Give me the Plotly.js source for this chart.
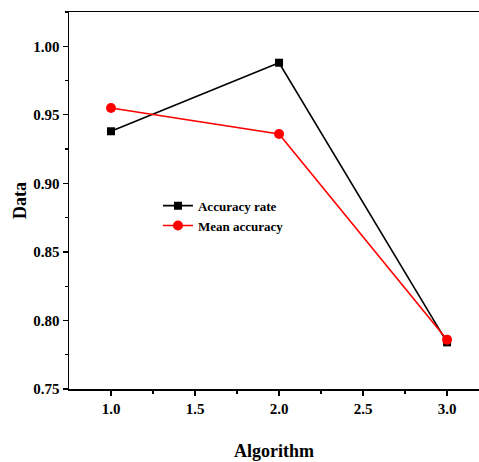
<!DOCTYPE html>
<html>
<head>
<meta charset="utf-8">
<script src="https://cdn.plot.ly/plotly-3.0.1.min.js"></script>
<style>html,body{margin:0;padding:0;background:#fff;}#chart{width:479px;height:462px;}</style>
</head>
<body>
<div id="chart"></div>
<script>
var algorithms = [1.0, 2.0, 3.0];
var accuracyRate = [0.938, 0.988, 0.784];
var meanAccuracy = [0.955, 0.936, 0.786];
var xTickVals = [1.0, 1.5, 2.0, 2.5, 3.0];
var xTickText = ['1.0', '1.5', '2.0', '2.5', '3.0'];
var yTickVals = [0.75, 0.80, 0.85, 0.90, 0.95, 1.00];
var yTickText = ['0.75', '0.80', '0.85', '0.90', '0.95', '1.00'];

var fontFam = 'Liberation Serif';
var tickFont = {family: fontFam, size: 15, color: '#000000', weight: 'bold'};

var traces = [
  {x: algorithms, y: accuracyRate, name: '<b>Accuracy rate</b>', type: 'scatter', mode: 'lines+markers',
   line: {color: '#000000', width: 1.6}, marker: {symbol: 'square', size: 8, color: '#000000'}},
  {x: algorithms, y: meanAccuracy, name: '<b>Mean accuracy</b>', type: 'scatter', mode: 'lines+markers',
   line: {color: '#ff0000', width: 1.6}, marker: {symbol: 'circle', size: 10, color: '#ff0000'}}
];

var layout = {
  width: 479, height: 462,
  margin: {l: 69, r: 0, t: 12, b: 73},
  paper_bgcolor: '#ffffff', plot_bgcolor: '#ffffff',
  font: {family: fontFam, color: '#000000', size: 15},
  showlegend: true,
  legend: {x: 0.217, y: 0.526, xanchor: 'left', yanchor: 'top', bgcolor: 'rgba(0,0,0,0)',
           font: {family: fontFam, size: 13, color: '#000'}, tracegroupgap: 0, itemwidth: 30},
  xaxis: {
    range: [0.75, 3.19], showgrid: false, zeroline: false,
    showline: true, linecolor: '#000', linewidth: 1.5, mirror: true,
    ticks: 'outside', ticklen: 5, tickwidth: 1.2, tickcolor: '#000',
    tickmode: 'array', tickvals: xTickVals, ticktext: xTickText,
    minor: {tickvals: [1.25, 1.75, 2.25, 2.75], ticks: 'outside', ticklen: 3, tickwidth: 1.2, tickcolor: '#000', showgrid: false},
    tickfont: tickFont,
    title: {text: '<b>Algorithm</b>', font: {family: fontFam, size: 18, color: '#000'}, standoff: 29}
  },
  yaxis: {
    range: [0.75, 1.025], showgrid: false, zeroline: false,
    showline: true, linecolor: '#000', linewidth: 1.5, mirror: false,
    ticks: 'outside', ticklen: 5, tickwidth: 1.2, tickcolor: '#000',
    tickmode: 'array', tickvals: yTickVals, ticktext: yTickText,
    minor: {tickvals: [0.775, 0.825, 0.875, 0.925, 0.975, 1.025], ticks: 'outside', ticklen: 3, tickwidth: 1.2, tickcolor: '#000', showgrid: false},
    tickfont: tickFont,
    title: {text: '<b>Data</b>', font: {family: fontFam, size: 18, color: '#000'}, standoff: 2}
  }
};

Plotly.newPlot('chart', traces, layout, {displayModeBar: false, staticPlot: true});
</script>
</body>
</html>
